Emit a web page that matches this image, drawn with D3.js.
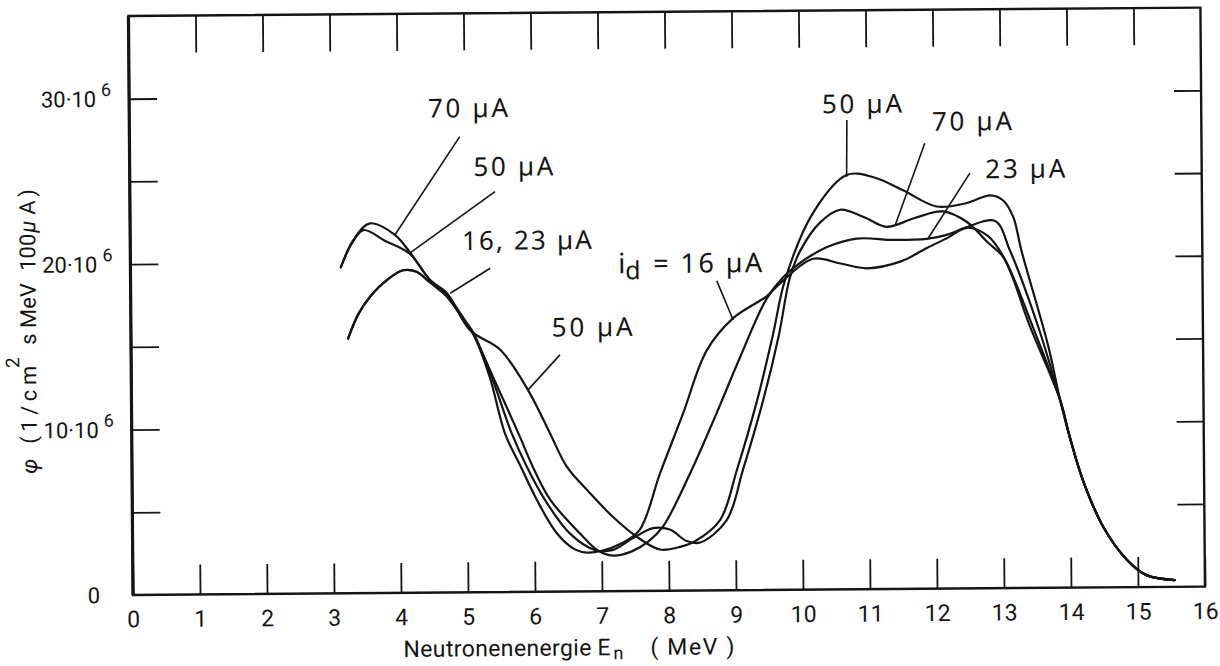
<!DOCTYPE html>
<html lang="de">
<head>
<meta charset="utf-8">
<title>Neutronenspektrum</title>
<script src="https://cdn.jsdelivr.net/npm/d3@7/dist/d3.min.js"></script>
<style>
  html, body { margin: 0; padding: 0; background: #fff; }
  svg { display: block; }
  .num { font-family: "Roboto", "DejaVu Sans", sans-serif; fill: #151515; }
  .note { font-family: "Noto Sans", "Open Sans", sans-serif; fill: #151515; }
</style>
</head>
<body>
<svg id="chart" width="1220" height="666"></svg>
<script>
// Neutron flux spectra (10^6 per cm² s MeV per 100 µA) for four deuteron currents i_d
const energy16 = [3.24,3.40,3.57,3.82,4.07,4.27,4.47,4.72,5.01,5.11,5.35,5.57,5.80,6.04,6.33,6.60,6.78,7.00,7.30,7.57,7.88,8.23,8.59,8.99,9.49,9.74,10.19,10.60,10.99,11.50,11.89,12.20,12.49,12.80,13.05,13.45,13.86,14.00,14.19,14.49,14.84,15.13,15.55];
const flux16   = [15.4,16.9,17.9,18.9,19.5,19.4,18.75,17.9,16.2,15.6,13.0,9.6,7.6,5.55,3.55,2.55,2.35,2.45,2.9,3.7,7.1,10.7,14.5,16.45,17.75,18.7,20.0,19.7,19.4,19.8,20.6,21.2,21.8,21.3,19.9,15.9,11.35,9.1,6.5,3.65,1.65,0.72,0.41];

const energy23 = [3.24,3.40,3.57,3.82,4.07,4.27,4.47,4.72,5.01,5.11,5.40,5.77,6.00,6.24,6.68,6.95,7.17,7.45,7.70,7.92,8.33,8.73,9.09,9.49,9.74,9.99,10.40,10.84,11.40,11.89,12.20,12.49,12.91,13.13,13.54,13.86,14.00,14.19,14.49,14.84,15.13,15.55];
const flux23   = [15.4,16.9,17.9,18.9,19.5,19.4,18.75,17.9,16.2,15.6,13.0,9.6,7.4,5.55,3.5,2.45,2.15,2.4,3.0,3.9,7.1,10.7,14.1,17.6,18.9,19.75,20.7,21.2,21.1,21.15,21.4,21.85,22.2,20.4,15.8,11.35,9.1,6.5,3.65,1.65,0.72,0.41];

const energy50 = [3.14,3.30,3.48,3.80,4.17,4.47,4.72,5.06,5.51,5.92,6.24,6.49,6.83,7.17,7.52,7.87,8.17,8.40,8.77,9.03,9.34,9.58,9.77,10.19,10.70,11.10,11.54,12.04,12.49,12.84,13.03,13.18,13.30,13.69,13.86,14.00,14.19,14.49,14.84,15.13,15.55];
const flux50   = [19.7,21.1,21.95,21.3,20.5,18.9,18.1,15.85,14.65,12.2,9.6,7.55,5.95,4.5,3.3,2.5,2.65,3.0,4.25,7.3,11.5,15.4,18.75,22.75,25.05,24.9,24.1,23.1,23.3,23.75,23.45,22.45,20.4,14.6,11.35,9.1,6.5,3.65,1.65,0.72,0.41];

const energy70 = [3.14,3.33,3.58,3.95,4.17,4.47,4.72,5.01,5.11,5.38,5.67,5.90,6.16,6.53,6.90,7.17,7.47,7.77,8.02,8.27,8.47,8.87,9.12,9.43,9.67,9.84,10.00,10.30,10.60,10.95,11.29,11.70,12.13,12.49,12.80,13.03,13.42,13.86,14.00,14.19,14.49,14.84,15.13,15.55];
const flux70   = [19.7,21.35,22.35,21.65,20.6,18.9,18.0,16.3,15.7,13.0,9.6,7.5,5.55,3.5,2.5,2.5,3.2,3.8,3.7,3.0,2.9,4.25,7.3,11.5,15.4,18.85,20.5,22.2,22.95,22.5,21.9,22.4,22.8,22.15,20.9,20.0,15.8,11.35,9.1,6.5,3.65,1.65,0.72,0.41];

// axis ticks
const energyTicks = d3.range(0, 17);
const fluxTicks = [5, 10, 15, 20, 25, 30];
const fluxLabelValues = [0, 10, 20, 30];
const fluxLabelText = ["0", "10·10", "20·10", "30·10"];

// current labels: text, anchor (MeV, 10^6) and leader line from -> to
const noteText = ["70 µA", "50 µA", "16, 23 µA", "50 µA", "50 µA", "70 µA", "23 µA"];
const noteE    = [4.46, 5.13, 4.95, 6.28, 10.34, 11.98, 12.77];
const noteF    = [28.72, 25.17, 20.7, 15.42, 28.79, 27.69, 24.79];
const noteWidth = [80, 80, 130, 81, 80, 80, 80];
const leaderFrom = [[4.93,27.55],[5.45,24.21],[5.37,19.58],[6.40,14.31],[10.71,28.38],[11.87,26.93],[12.54,25.10],[8.75,18.71]];
const leaderTo   = [[3.95,21.64],[4.17,20.53],[4.77,18.09],[5.92,12.21],[10.70,24.95],[11.42,22.00],[11.91,21.19],[8.99,16.34]];
const idLabelAt = [7.28, 19.22];

const ink = "#151515";
const svg = d3.select("#chart");
const x = d3.scaleLinear().domain([0, 16]).range([133, 1205]);
const y = d3.scaleLinear().domain([0, 35]).range([595, 16]);

// the whole sheet is set with a slight tilt
const g = svg.append("g").attr("transform", `rotate(-0.45, ${x(0)}, ${y(0)})`);

// ---- ticks via d3 axes (ticks point inward) ----
function styleAxis(sel, width) {
  sel.select(".domain").remove();
  sel.selectAll(".tick line").attr("stroke", ink).attr("stroke-width", width);
}
const axisB = g.append("g").attr("transform", `translate(0,${y(0)})`)
  .call(d3.axisBottom(x).tickValues(energyTicks).tickSize(-30).tickPadding(16).tickFormat(d3.format("d")));
styleAxis(axisB, 1.8);
axisB.selectAll(".tick text").attr("class", "num").attr("font-size", 23).attr("fill", ink);

const axisT = g.append("g").attr("transform", `translate(0,${y(35)})`)
  .call(d3.axisTop(x).tickValues(energyTicks.filter(d => d > 0 && d < 16)).tickSize(-37).tickFormat(""));
styleAxis(axisT, 1.8);

const axisL = g.append("g").attr("transform", `translate(${x(0)},0)`)
  .call(d3.axisLeft(y).tickValues(fluxTicks).tickSize(-28).tickFormat(""));
styleAxis(axisL, 1.8);

const axisR = g.append("g").attr("transform", `translate(${x(16)},0)`)
  .call(d3.axisRight(y).tickValues(fluxTicks).tickSize(-27).tickFormat(""));
styleAxis(axisR, 1.8);

// ---- frame ----
g.append("rect")
  .attr("x", x(0)).attr("y", y(35))
  .attr("width", x(16) - x(0)).attr("height", y(0) - y(35))
  .attr("fill", "none").attr("stroke", ink).attr("stroke-width", 2.4);
g.append("line")
  .attr("x1", x(0)).attr("x2", x(0)).attr("y1", y(35)).attr("y2", y(0))
  .attr("stroke", ink).attr("stroke-width", 3.2);

// ---- flux tick labels with power of ten ----
fluxLabelValues.forEach((v, i) => {
  g.append("text").attr("class", "num")
    .attr("x", x(0) - 33).attr("y", y(v) + 8)
    .attr("text-anchor", "end").attr("font-size", 22)
    .text(fluxLabelText[i]);
  if (v > 0) {
    g.append("text").attr("class", "num")
      .attr("x", x(0) - 28).attr("y", y(v) - 3)
      .attr("font-size", 18)
      .text("6");
  }
});

// ---- axis titles ----
const xt = g.append("g").attr("class", "num").attr("font-size", 23).attr("fill", ink);
xt.append("text").attr("x", 403).attr("y", 659)
  .attr("textLength", 188).attr("lengthAdjust", "spacing").text("Neutronenenergie");
xt.append("text").attr("x", 597).attr("y", 659).text("E");
xt.append("text").attr("x", 613).attr("y", 663).attr("font-size", 18).text("n");
xt.append("text").attr("x", 650).attr("y", 659)
  .attr("textLength", 84).attr("lengthAdjust", "spacing").text("( MeV )");

// y title, set vertically piece by piece
const yParts = [
  { t: "φ", at: 473, len: null, base: 38, size: 22, italic: true },
  { t: "(1/cm", at: 443, len: 78, base: 38, size: 22 },
  { t: "2", at: 367, len: null, base: 21, size: 19 },
  { t: "s MeV", at: 344, len: null, base: 38, size: 22 },
  { t: "100", at: 270, len: null, base: 38, size: 22 },
  { t: "µ", at: 232, len: null, base: 38, size: 22, italic: true },
  { t: "A", at: 214, len: null, base: 38, size: 22 },
  { t: ")", at: 196, len: null, base: 38, size: 22 }
];
yParts.forEach(p => {
  const t = g.append("text").attr("class", "num")
    .attr("transform", `translate(${p.base},${p.at}) rotate(-90)`)
    .attr("font-size", p.size)
    .attr("font-style", p.italic ? "italic" : "normal")
    .text(p.t);
  if (p.len) t.attr("textLength", p.len).attr("lengthAdjust", "spacing");
});

// ---- spectra ----
const series = [
  { id: "16", e: energy16, f: flux16 },
  { id: "23", e: energy23, f: flux23 },
  { id: "50", e: energy50, f: flux50 },
  { id: "70", e: energy70, f: flux70 }
];
const line = d3.line()
  .x(d => x(d[0])).y(d => y(d[1]))
  .curve(d3.curveCatmullRom.alpha(0.5));
g.selectAll("path.spectrum").data(series).join("path")
  .attr("class", "spectrum")
  .attr("d", s => line(d3.zip(s.e, s.f)))
  .attr("fill", "none").attr("stroke", ink)
  .attr("stroke-width", 2.2).attr("stroke-linejoin", "round").attr("stroke-linecap", "round");

// ---- leaders and current labels ----
g.selectAll("line.leader").data(d3.zip(leaderFrom, leaderTo)).join("line")
  .attr("class", "leader")
  .attr("x1", d => x(d[0][0])).attr("y1", d => y(d[0][1]))
  .attr("x2", d => x(d[1][0])).attr("y2", d => y(d[1][1]))
  .attr("stroke", ink).attr("stroke-width", 1.6);

noteText.forEach((t, i) => {
  g.append("text").attr("class", "note")
    .attr("x", x(noteE[i])).attr("y", y(noteF[i]))
    .attr("font-size", 26)
    .attr("textLength", noteWidth[i]).attr("lengthAdjust", "spacing")
    .text(t);
});

const idx = x(idLabelAt[0]), idy = y(idLabelAt[1]);
g.append("text").attr("class", "note").attr("x", idx).attr("y", idy).attr("font-size", 28).text("i");
g.append("text").attr("class", "note").attr("x", idx + 7).attr("y", idy + 6).attr("font-size", 25).text("d");
g.append("text").attr("class", "note").attr("x", idx + 35).attr("y", idy)
  .attr("font-size", 27).attr("textLength", 109).attr("lengthAdjust", "spacing")
  .text("= 16 µA");
</script>
</body>
</html>
